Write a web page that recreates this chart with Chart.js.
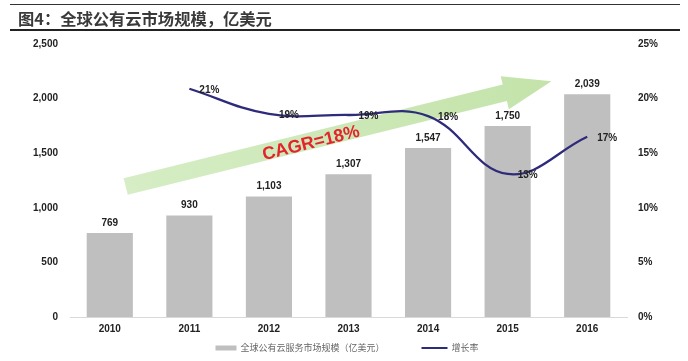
<!DOCTYPE html>
<html>
<head>
<meta charset="utf-8">
<script src="https://cdn.jsdelivr.net/npm/chart.js@4/dist/chart.umd.min.js"></script>
<style>
html,body{margin:0;padding:0;background:#fff;}
#wrap{position:relative;width:688px;height:361px;overflow:hidden;}
#title{position:absolute;left:10px;top:4px;width:670px;height:27px;border-top:1.5px solid #333;border-bottom:2px solid #222;
  font:bold 16.3px "Noto Sans CJK SC",sans-serif;color:#3a3a3a;line-height:26px;padding-left:8px;box-sizing:border-box;}
canvas{position:absolute;left:0;top:0;}
</style>
</head>
<body>
<div id="wrap">
  <canvas id="c" width="688" height="361"></canvas>
  <div id="title">图4：全球公有云市场规模，亿美元</div>
</div>
<script>
// ---- data ----
const categories = ['2010', '2011', '2012', '2013', '2014', '2015', '2016'];
const marketSize = [769, 930, 1103, 1307, 1547, 1750, 2039];           // 亿美元
const growthRate = [null, 20.9, 18.6, 18.5, 18.4, 13.1, 16.5];          // %
const seriesNames = ['全球公有云服务市场规模（亿美元）', '增长率'];
const cagrText = 'CAGR=18%';

// ---- styles ----
const BAR_COLOR = '#bfbfbf';
const LINE_COLOR = '#2e2b7a';
const NUM_FONT = '"Liberation Sans Narrow","Arial Narrow","Liberation Sans",sans-serif';

// arrow annotation (category index / left-axis value)
const arrowTail = {x: 0.20, y: 1195};
const arrowTip = {x: 5.55, y: 2160};
const cagrPos = {x: 2.53, y: 1590};

const decorPlugin = {
  id: 'decor',
  beforeDatasetsDraw(chart) {
    const ctx = chart.ctx, xs = chart.scales.x, ys = chart.scales.y;
    const x0 = xs.getPixelForValue(arrowTail.x), y0 = ys.getPixelForValue(arrowTail.y);
    const x1 = xs.getPixelForValue(arrowTip.x), y1 = ys.getPixelForValue(arrowTip.y);
    const dx = x1 - x0, dy = y1 - y0, len = Math.hypot(dx, dy);
    const ux = dx / len, uy = dy / len, nx = -uy, ny = ux;
    const hw = 8.5, hh = 17, hl = 48;
    const bx = x1 - ux * hl, by = y1 - uy * hl;
    ctx.save();
    const g = ctx.createLinearGradient(x0, y0, x1, y1);
    g.addColorStop(0, '#d6edc5');
    g.addColorStop(1, '#c4e3aa');
    ctx.fillStyle = g;
    ctx.beginPath();
    ctx.moveTo(x0 + nx * hw, y0 + ny * hw);
    ctx.lineTo(bx + nx * hw, by + ny * hw);
    ctx.lineTo(bx + nx * hh, by + ny * hh);
    ctx.lineTo(x1, y1);
    ctx.lineTo(bx - nx * hh, by - ny * hh);
    ctx.lineTo(bx - nx * hw, by - ny * hw);
    ctx.lineTo(x0 - nx * hw, y0 - ny * hw);
    ctx.closePath();
    ctx.fill();
    // CAGR label
    const cx = xs.getPixelForValue(cagrPos.x), cy = ys.getPixelForValue(cagrPos.y);
    ctx.translate(cx, cy);
    ctx.rotate(Math.atan2(dy, dx));
    ctx.font = 'bold 18px "Liberation Sans",sans-serif';
    ctx.fillStyle = '#e3242b';
    ctx.textAlign = 'center';
    ctx.textBaseline = 'middle';
    ctx.fillText(cagrText, 0, 0);
    ctx.restore();
  },
  afterDatasetsDraw(chart) {
    const ctx = chart.ctx;
    ctx.save();
    ctx.font = 'bold 10px ' + NUM_FONT;
    ctx.fillStyle = '#222';
    // bar value labels
    const barMeta = chart.getDatasetMeta(0);
    barMeta.data.forEach((el, i) => {
      ctx.textAlign = 'center';
      ctx.textBaseline = 'middle';
      ctx.fillText(marketSize[i].toLocaleString('en-US'), el.x, el.y - 10);
    });
    // growth labels
    const lineMeta = chart.getDatasetMeta(1);
    lineMeta.data.forEach((el, i) => {
      const v = growthRate[i];
      if (v === null || v === undefined) return;
      ctx.textAlign = 'left';
      ctx.textBaseline = 'middle';
      ctx.fillText(Math.round(v) + '%', el.x + 10, el.y + 1);
    });
    ctx.restore();
  },
  afterDraw(chart) {
    // legend
    const ctx = chart.ctx;
    ctx.save();
    ctx.font = '9px "Noto Sans CJK SC",sans-serif';
    const ds = chart.data.datasets;
    const swW = [21, 26], gapT = 4, gapI = 37;
    const tw = ds.map(d => ctx.measureText(d.label).width);
    const total = swW[0] + gapT + tw[0] + gapI + swW[1] + gapT + tw[1];
    let x = chart.width / 2 - total / 2 + 3;
    const y = chart.height - 13;
    ds.forEach((d, i) => {
      if (d.type === 'bar') {
        ctx.fillStyle = d.backgroundColor;
        ctx.fillRect(x, y - 2.5, swW[i], 5);
      } else {
        ctx.strokeStyle = d.borderColor;
        ctx.lineWidth = 2;
        ctx.beginPath();
        ctx.moveTo(x, y);
        ctx.lineTo(x + swW[i], y);
        ctx.stroke();
      }
      x += swW[i] + gapT;
      ctx.fillStyle = '#666';
      ctx.textAlign = 'left';
      ctx.textBaseline = 'middle';
      ctx.fillText(d.label, x, y);
      x += tw[i] + gapI;
    });
    ctx.restore();
  }
};

new Chart(document.getElementById('c'), {
  data: {
    labels: categories,
    datasets: [
      {
        type: 'bar', label: seriesNames[0], data: marketSize, yAxisID: 'y',
        backgroundColor: BAR_COLOR, barPercentage: 0.58, categoryPercentage: 1.0, order: 2
      },
      {
        type: 'line', label: seriesNames[1], data: growthRate, yAxisID: 'y1',
        borderColor: LINE_COLOR, borderWidth: 2.3, pointRadius: 0, tension: 0.4, fill: false, order: 1
      }
    ]
  },
  options: {
    responsive: false,
    animation: false,
    devicePixelRatio: 1,
    layout: {padding: {top: 44, bottom: 20, left: 0, right: 0}},
    plugins: {legend: {display: false}, tooltip: {enabled: false}, title: {display: false}},
    scales: {
      x: {
        grid: {display: false, drawTicks: false},
        border: {display: true, color: '#d9d9d9', width: 1},
        ticks: {font: {family: NUM_FONT, size: 10, weight: 'bold'}, color: '#222', padding: 6}
      },
      y: {
        position: 'left', min: 0, max: 2500,
        grid: {display: false, drawTicks: false}, border: {display: false},
        ticks: {stepSize: 500, padding: 12, color: '#222',
          font: {family: NUM_FONT, size: 10, weight: 'bold'},
          callback: v => v.toLocaleString('en-US')},
        afterFit: s => { s.width = 70; }
      },
      y1: {
        position: 'right', min: 0, max: 25,
        grid: {display: false, drawTicks: false}, border: {display: false},
        ticks: {stepSize: 5, padding: 11, color: '#222',
          font: {family: NUM_FONT, size: 10, weight: 'bold'},
          callback: v => v + '%'},
        afterFit: s => { s.width = 61; }
      }
    }
  },
  plugins: [decorPlugin]
});
</script>
</body>
</html>
